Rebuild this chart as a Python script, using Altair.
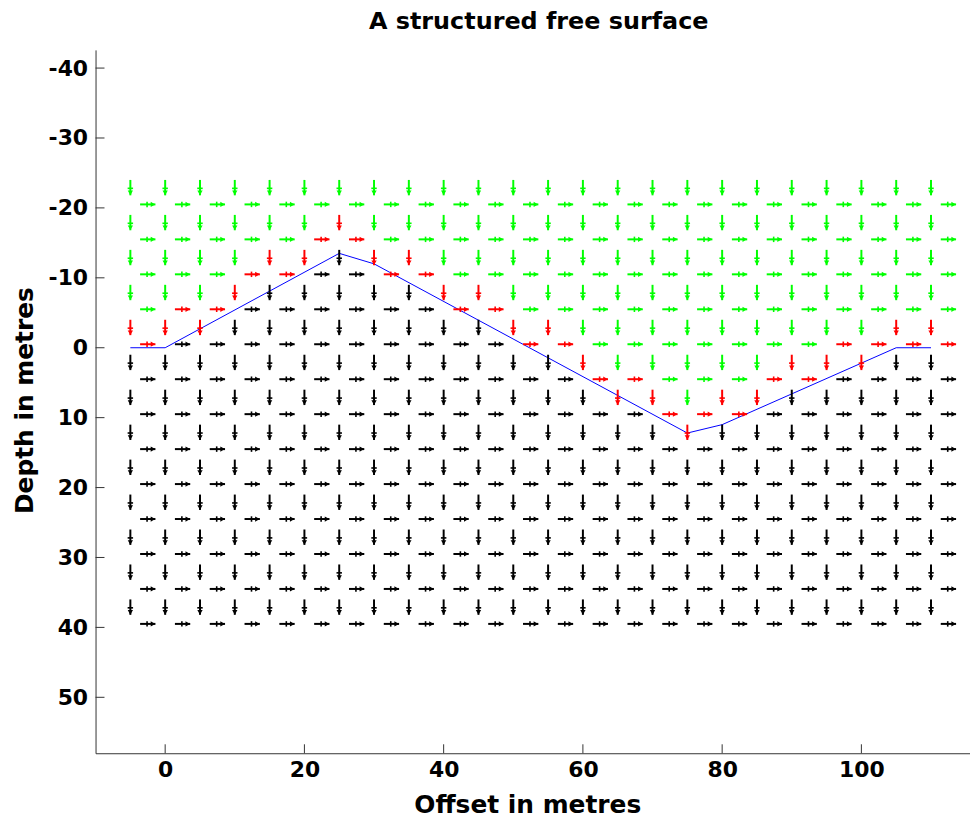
import altair as alt
import pandas as pd

TITLE = "A structured free surface"
X_TITLE = "Offset in metres"
Y_TITLE = "Depth in metres"

# horizontal-velocity nodes (arrows pointing right)
U_X = [-2.5, 2.5, 7.5, 12.5, 17.5, 22.5, 27.5, 32.5, 37.5, 42.5, 47.5, 52.5,
       57.5, 62.5, 67.5, 72.5, 77.5, 82.5, 87.5, 92.5, 97.5, 102.5, 107.5, 112.5]
U_Z = [-20.5, -15.5, -10.5, -5.5, -0.5, 4.5, 9.5, 14.5, 19.5, 24.5, 29.5, 34.5, 39.5]
# vertical-velocity nodes (arrows pointing down)
W_X = [-5, 0, 5, 10, 15, 20, 25, 30, 35, 40, 45, 50,
       55, 60, 65, 70, 75, 80, 85, 90, 95, 100, 105, 110]
W_Z = [-22.9, -17.9, -12.9, -7.9, -2.9, 2.1, 7.1, 12.1, 17.1, 22.1, 27.1, 32.1, 37.1]

# G = above the surface, R = next to the surface, K = inside the medium
U_CLASS = [
    "GGGGGGGGGGGGGGGGGGGGGGGG",
    "GGGGGRRGGGGGGGGGGGGGGGGG",
    "GGGRRKKRRGGGGGGGGGGGGGGG",
    "GRRKKKKKKRRGGGGGGGGGGGGG",
    "RKKKKKKKKKKRRGGGGGGGRRRR",
    "KKKKKKKKKKKKKRRGGGRRKKKK",
    "KKKKKKKKKKKKKKKRRRKKKKKK",
    "KKKKKKKKKKKKKKKKKKKKKKKK",
    "KKKKKKKKKKKKKKKKKKKKKKKK",
    "KKKKKKKKKKKKKKKKKKKKKKKK",
    "KKKKKKKKKKKKKKKKKKKKKKKK",
    "KKKKKKKKKKKKKKKKKKKKKKKK",
    "KKKKKKKKKKKKKKKKKKKKKKKK",
]
W_CLASS = [
    "GGGGGGGGGGGGGGGGGGGGGGGG",
    "GGGGGGRGGGGGGGGGGGGGGGGG",
    "GGGGRRKRRGGGGGGGGGGGGGGG",
    "GGGRKKKKKRRGGGGGGGGGGGGG",
    "RRRKKKKKKKKRRGGGGGGGGGRR",
    "KKKKKKKKKKKKKRGGGGGRRRKK",
    "KKKKKKKKKKKKKKRRGRRKKKKK",
    "KKKKKKKKKKKKKKKKRKKKKKKK",
    "KKKKKKKKKKKKKKKKKKKKKKKK",
    "KKKKKKKKKKKKKKKKKKKKKKKK",
    "KKKKKKKKKKKKKKKKKKKKKKKK",
    "KKKKKKKKKKKKKKKKKKKKKKKK",
    "KKKKKKKKKKKKKKKKKKKKKKKK",
]

SURF_X = [-5, 0, 25, 30, 75, 80, 105, 110]
SURF_Z = [0, 0, -13.5, -12, 12.2, 11, 0, 0]

X_TICKS = [0, 20, 40, 60, 80, 100]
Y_TICKS = [-40, -30, -20, -10, 0, 10, 20, 30, 40, 50]

CLASS_DOMAIN = ["G", "R", "K"]
CLASS_COLORS = ["#00ff00", "#ff0000", "#000000"]

FONT = "DejaVu Sans"
W, H = 879, 707

u_df = pd.DataFrame([{"x": U_X[i], "z": U_Z[j], "c": U_CLASS[j][i]}
                     for j in range(len(U_Z)) for i in range(len(U_X))])
w_df = pd.DataFrame([{"x": W_X[i], "z": W_Z[j], "c": W_CLASS[j][i]}
                     for j in range(len(W_Z)) for i in range(len(W_X))])
s_df = pd.DataFrame({"x": SURF_X, "z": SURF_Z, "o": list(range(len(SURF_X)))})
xt_df = pd.DataFrame({"v": X_TICKS})
yt_df = pd.DataFrame({"v": Y_TICKS})

xs = alt.Scale(domain=[-10, 115.6], nice=False, zero=False)
ys = alt.Scale(domain=[-42.6, 58], reverse=True, nice=False, zero=False)
cs = alt.Scale(domain=CLASS_DOMAIN, range=CLASS_COLORS)
col = alt.Color("c:N", scale=cs, legend=None)

x_axis = alt.Axis(values=X_TICKS, title=X_TITLE, ticks=False, tickSize=0, grid=False,
                  labelPadding=6, titleBaseline="alphabetic", titleY=60, titleX=434)
y_axis = alt.Axis(values=Y_TICKS, title=Y_TITLE, ticks=False, tickSize=0, grid=False,
                  labelPadding=8, titleBaseline="alphabetic", titleX=-63, titleY=352,
                  labelExpr="datum.value < 0 ? '-' + format(-datum.value, 'd') : format(datum.value, 'd')")


def X(field):
    return alt.X(field, type="quantitative", scale=xs, axis=x_axis, title=X_TITLE)


def Y(field):
    return alt.Y(field, type="quantitative", scale=ys, axis=y_axis, title=Y_TITLE)


HALF = 1.1

surface = alt.Chart(s_df).mark_line(color="#0000ff", strokeWidth=1).encode(
    x=X("x"), y=Y("z"), order="o:Q")

u_base = alt.Chart(u_df).transform_calculate(
    x0=f"datum.x - {HALF}", x1=f"datum.x + {HALF}", xh=f"datum.x + {HALF - 0.35}",
    xc=f"datum.x - 0.1")
u_shaft = u_base.mark_rule(strokeWidth=2).encode(
    x=X("x0"), x2="x1:Q", y=Y("z"), color=col)
u_head = u_base.mark_point(shape="triangle-right", filled=True, size=28, opacity=1).encode(
    x=X("xh"), y=Y("z"), color=col)
u_bar = u_base.mark_point(shape="M0,-1L0,1", filled=False, size=30, strokeWidth=1.6, opacity=1).encode(
    x=X("xc"), y=Y("z"), color=col)

w_base = alt.Chart(w_df).transform_calculate(
    z0=f"datum.z - {HALF}", z1=f"datum.z + {HALF}", zh=f"datum.z + {HALF - 0.35}",
    zc=f"datum.z + 0.1")
w_shaft = w_base.mark_rule(strokeWidth=2).encode(
    x=X("x"), y=Y("z0"), y2="z1:Q", color=col)
w_head = w_base.mark_point(shape="triangle-down", filled=True, size=28, opacity=1).encode(
    x=X("x"), y=Y("zh"), color=col)
w_bar = w_base.mark_point(shape="M-1,0L1,0", filled=False, size=30, strokeWidth=1.6, opacity=1).encode(
    x=X("x"), y=Y("zc"), color=col)

# inward-pointing ticks
y_ticks = alt.Chart(yt_df).mark_rule(color="#333333", strokeWidth=1).encode(
    y=Y("v"), x=alt.value(0), x2=alt.value(9))
x_ticks = alt.Chart(xt_df).mark_rule(color="#333333", strokeWidth=1).encode(
    x=X("v"), y=alt.value(H), y2=alt.value(H - 9))

chart = alt.layer(
    surface, u_shaft, u_head, u_bar, w_shaft, w_head, w_bar, y_ticks, x_ticks
).properties(
    width=W, height=H,
    title=alt.TitleParams(TITLE, font=FONT, fontSize=24, fontWeight="bold",
                          color="black", offset=16, anchor="middle", dx=6),
    autosize=alt.AutoSizeParams(type="none"),
    padding={"left": 88, "top": 40, "right": 0, "bottom": 67},
).configure_view(stroke=None).configure_axis(
    domainColor="#333333", domainWidth=1,
    labelFont=FONT, labelFontSize=22, labelFontWeight="bold", labelColor="black",
    titleFont=FONT, titleFontSize=25, titleFontWeight="bold", titleColor="black",
)

chart.save("out.html", embed_options={"renderer": "svg", "actions": False})
